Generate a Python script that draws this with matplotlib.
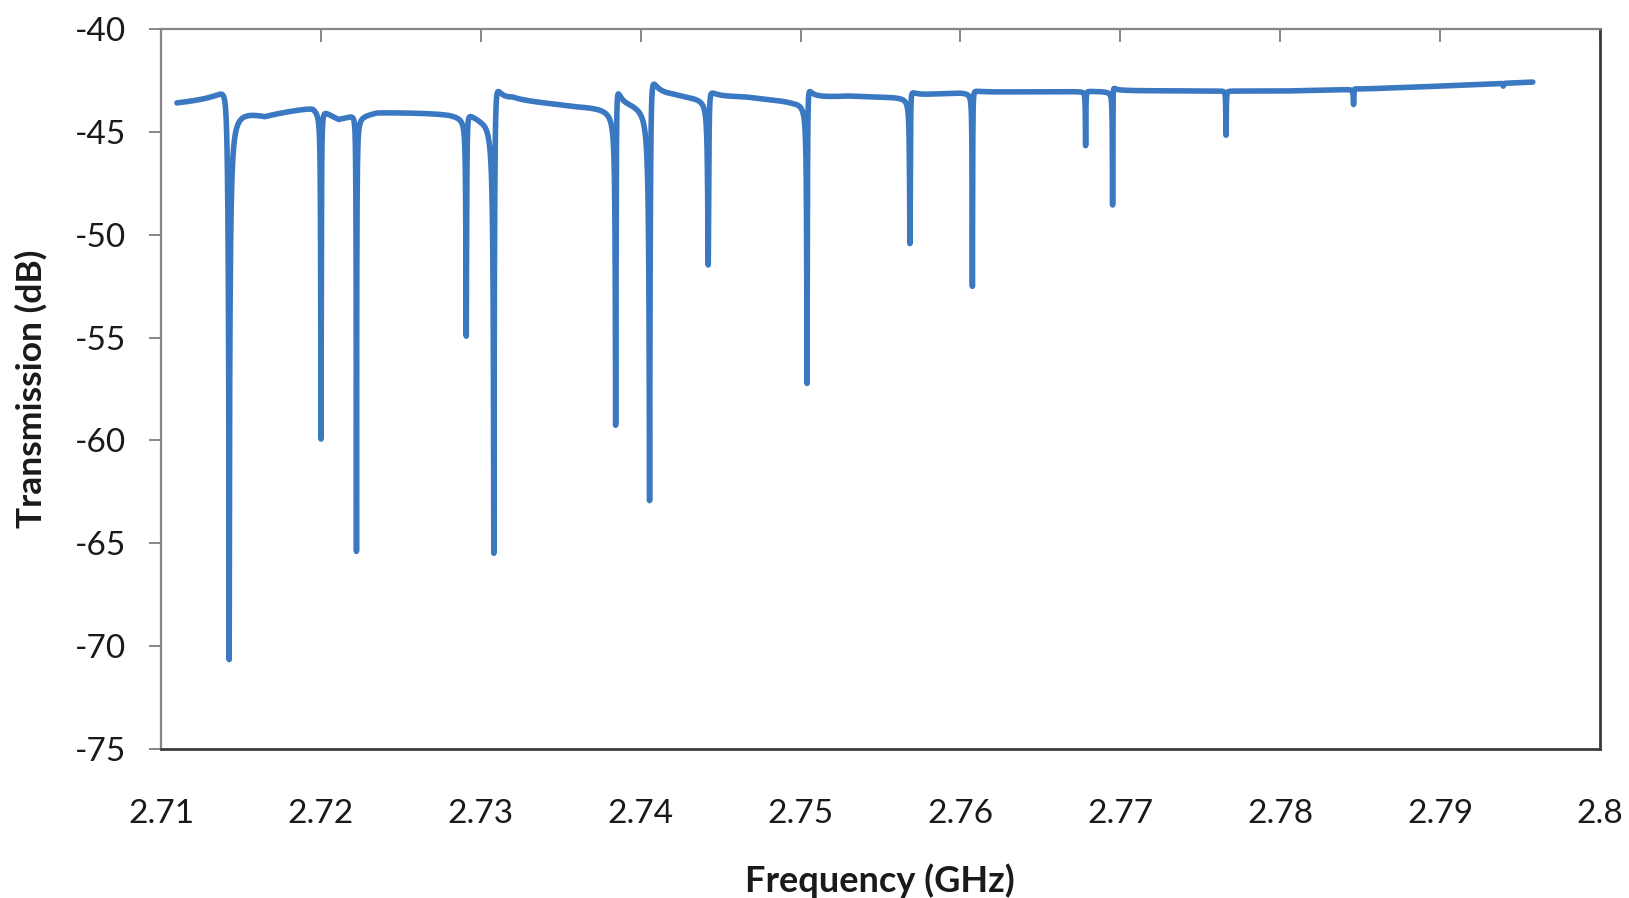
import numpy as np
import matplotlib
matplotlib.use("Agg")
import matplotlib.pyplot as plt

# Slowly varying background transmission (GHz, dB)
base_freq = [2.7110, 2.7140, 2.7165, 2.7195, 2.7211, 2.7235, 2.7280, 2.7300,
             2.7320, 2.7360, 2.7390, 2.7420, 2.7440, 2.7465, 2.7495, 2.7530,
             2.7565, 2.7600, 2.7650, 2.7700, 2.7800, 2.7850, 2.7900, 2.7958]
base_db = [-43.65, -43.45, -44.0, -43.65, -44.3, -43.9, -43.9, -44.0,
           -43.5, -43.65, -43.6, -43.4, -43.45, -43.4, -43.55, -43.35,
           -43.35, -43.15, -43.1, -43.05, -43.05, -42.95, -42.8, -42.6]

# Resonances: centre frequency (GHz), minimum transmission (dB),
# linewidth (GHz) and Fano asymmetry phase (rad)
res_freq = [2.71422, 2.72001, 2.72222, 2.72910, 2.73086, 2.73846, 2.74060,
            2.74424, 2.75042, 2.75685, 2.76075, 2.76783, 2.76952, 2.77661,
            2.78459, 2.79395]
res_min_db = [-70.6, -59.8, -65.4, -54.6, -65.4, -59.1, -63.0,
              -51.6, -57.3, -50.5, -52.6, -45.7, -48.6, -45.2,
              -43.7, -42.8]
res_width = [0.00030, 0.00010, 0.00010, 0.00010, 0.00020, 0.00012, 0.00020,
             0.00012, 0.00010, 0.00008, 0.00006, 0.00004, 0.00004, 0.00004,
             0.00004, 0.00004]
res_phase = [0.30, -0.10, 0.10, -0.20, -0.45, -0.45, -0.45,
             -0.33, -0.36, -0.30, -0.15, -0.10, -0.30, 0.0,
             -0.30, 0.0]

x_ticks = [2.71, 2.72, 2.73, 2.74, 2.75, 2.76, 2.77, 2.78, 2.79, 2.80]
x_tick_labels = ["2.71", "2.72", "2.73", "2.74", "2.75", "2.76", "2.77",
                 "2.78", "2.79", "2.8"]
y_ticks = [-75, -70, -65, -60, -55, -50, -45, -40]

# Build the transmission trace from the background and notch-type resonances
freq = np.linspace(base_freq[0], base_freq[-1], 40001)
background = np.interp(freq, base_freq, base_db)
s21 = np.ones_like(freq, dtype=complex)
for f0, dmin, w, phi in zip(res_freq, res_min_db, res_width, res_phase):
    b0 = np.interp(f0, base_freq, base_db)
    m = 10 ** ((dmin - b0) / 20)
    a = (1 - m ** 2) / (np.cos(phi) + m)
    s21 *= 1 - a * np.exp(1j * phi) / (1 + 2j * (freq - f0) / w)
trans_db = background + 20 * np.log10(np.abs(s21))

plt.rcParams['font.family'] = ['Lato', 'DejaVu Sans']
plt.rcParams['axes.unicode_minus'] = False

W, H = 1629, 898
fig = plt.figure(figsize=(W / 100, H / 100), dpi=100)
left, right, top, bottom = 161, 1600, 29, 749
ax = fig.add_axes([left / W, 1 - bottom / H, (right - left) / W, (bottom - top) / H])

ax.plot(freq, trans_db, color='#3b78c2', lw=4.0, solid_capstyle='round',
        solid_joinstyle='round')

ax.set_xlim(2.71, 2.80)
ax.set_ylim(-75, -40)
ax.set_xticks(x_ticks)
ax.set_xticklabels(x_tick_labels)
ax.set_yticks(y_ticks)

ax.tick_params(axis='x', top=True, bottom=False, labeltop=False, labelbottom=True,
               direction='in', length=9, width=1.4, color='#868686',
               labelsize=24, pad=36, labelcolor='#1a1a1a')
ax.tick_params(axis='y', direction='out', length=9, width=1.4, color='#868686',
               labelsize=24, pad=16, labelcolor='#1a1a1a')

for side in ('left', 'top'):
    ax.spines[side].set_color('#868686')
    ax.spines[side].set_linewidth(1.6)
for side in ('right', 'bottom'):
    ax.spines[side].set_color('#3c3c3c')
    ax.spines[side].set_linewidth(2.0)

fig.text(31 / W, 1 - 389 / H, 'Transmission (dB)', rotation=90, fontsize=25.5,
         fontweight='bold', ha='center', va='center', color='#1a1a1a')
fig.text(880 / W, 1 - 881 / H, 'Frequency (GHz)', fontsize=26,
         fontweight='bold', ha='center', va='center', color='#1a1a1a')

fig.savefig('out.png', dpi=100, facecolor='white')
